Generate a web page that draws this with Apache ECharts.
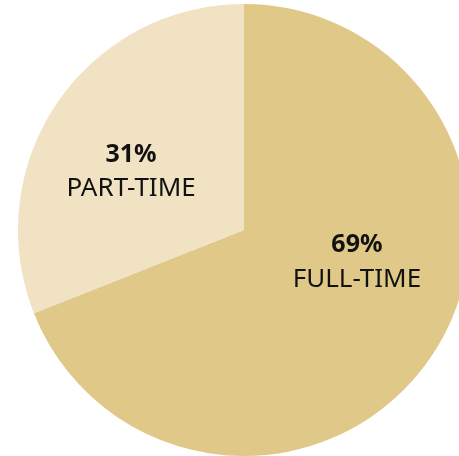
<!DOCTYPE html>
<html><head><meta charset="utf-8">
<script src="https://cdn.jsdelivr.net/npm/echarts@6/dist/echarts.min.js"></script>
<style>html,body{margin:0;padding:0;background:#fff}#c{width:459px;height:456px}</style>
</head><body><div id="c"></div>
<script>
const categories = ['FULL-TIME', 'PART-TIME'];
const values = [69, 31];
const colors = ['#E0C888', '#F0E2C3'];
const labelOffsets = [[17, -33], [-17, 7]];

const chart = echarts.init(document.getElementById('c'), null, {renderer: 'canvas'});
chart.setOption({
  animation: false,
  series: [{
    type: 'pie',
    center: [244, 230],
    radius: 226,
    startAngle: 90,
    clockwise: true,
    silent: true,
    itemStyle: {borderWidth: 0},
    labelLine: {show: false},
    label: {
      show: true,
      position: 'inside',
      formatter: p => '{b|' + p.value + '%}\n{n|' + p.name + '}',
      rich: {
        b: {fontFamily: 'Noto Sans', fontWeight: 'bold', fontSize: 25, color: '#111', lineHeight: 34, align: 'center'},
        n: {fontFamily: 'Noto Sans', fontSize: 26, color: '#111', lineHeight: 34, align: 'center'}
      }
    },
    data: categories.map((c, i) => ({
      name: c, value: values[i],
      itemStyle: {color: colors[i]},
      label: {offset: labelOffsets[i]}
    }))
  }]
});
</script></body></html>
